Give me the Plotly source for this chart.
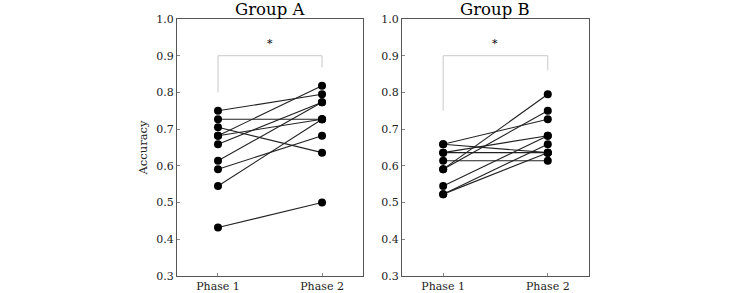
import plotly.graph_objects as go

phases = ["Phase 1", "Phase 2"]
groups = ["Group A", "Group B"]

# Each subject: (phase 1 accuracy, phase 2 accuracy)
group_a_phase1 = [0.750, 0.727, 0.705, 0.682, 0.682, 0.659, 0.614, 0.591, 0.545, 0.432]
group_a_phase2 = [0.795, 0.727, 0.636, 0.818, 0.727, 0.773, 0.773, 0.682, 0.727, 0.500]

group_b_phase1 = [0.659, 0.659, 0.636, 0.636, 0.614, 0.591, 0.591, 0.545, 0.523, 0.523]
group_b_phase2 = [0.727, 0.636, 0.682, 0.636, 0.614, 0.795, 0.750, 0.682, 0.659, 0.636]

# significance brackets: [left leg bottom, top, right leg bottom], star height
bracket_a = [0.80, 0.90, 0.868]
bracket_b = [0.75, 0.90, 0.86]
star_y = 0.934
y_ticks = [0.3, 0.4, 0.5, 0.6, 0.7, 0.8, 0.9, 1.0]

FONT = "DejaVu Serif"
fig = go.Figure()

data = [(group_a_phase1, group_a_phase2, bracket_a, "x", "y"),
        (group_b_phase1, group_b_phase2, bracket_b, "x2", "y2")]

for p1, p2, br, xa, ya in data:
    # bracket
    fig.add_trace(go.Scatter(x=[0, 0, 1, 1], y=[br[0], br[1], br[1], br[2]],
                             mode="lines", line=dict(color="#c8c8c8", width=1),
                             xaxis=xa, yaxis=ya, showlegend=False, hoverinfo="skip"))
    for a, b in zip(p1, p2):
        fig.add_trace(go.Scatter(x=[0, 1], y=[a, b], mode="lines+markers",
                                 line=dict(color="#222222", width=1.1),
                                 marker=dict(color="black", size=8),
                                 xaxis=xa, yaxis=ya, showlegend=False))

axis_common = dict(showline=True, mirror=True, linecolor="#555555", linewidth=1,
                   showgrid=False, zeroline=False, ticks="inside", ticklen=3,
                   automargin=False,
                   tickcolor="#888888", tickfont=dict(family=FONT, size=11, color="#222"))

xr = [-0.394, 1.394]
fig.update_layout(
    width=733, height=293,
    margin=dict(l=177, r=144, t=19, b=17, autoexpand=False),
    paper_bgcolor="white", plot_bgcolor="white",
    font=dict(family=FONT, size=11, color="#222"),
    xaxis=dict(domain=[0, 0.4515], range=xr, tickvals=[0, 1], ticktext=phases, **axis_common),
    xaxis2=dict(domain=[0.546, 1], range=xr, tickvals=[0, 1], ticktext=phases, anchor="y2", **axis_common),
    yaxis=dict(range=[0.3, 1.0], tickvals=y_ticks, tickformat=".1f",
               title=dict(text="Accuracy", font=dict(family=FONT, size=11.5), standoff=6),
               **axis_common),
    yaxis2=dict(range=[0.3, 1.0], tickvals=y_ticks, tickformat=".1f", anchor="x2", **axis_common),
)

for i, (g, xa) in enumerate(zip(groups, ["x", "x2"])):
    fig.add_annotation(text=g, xref=f"{xa} domain", yref="paper", x=0.5, y=1,
                       yanchor="middle", showarrow=False, yshift=10,
                       font=dict(family=FONT, size=16.5, color="black"))
    fig.add_annotation(text="*", xref=xa, yref="y" if i == 0 else "y2", x=0.5, y=star_y,
                       showarrow=False, font=dict(family=FONT, size=11, color="black"))

fig.write_html("out.html", config={"displayModeBar": False},
               post_script="document.body.style.margin='0px';document.body.style.overflow='hidden';")
